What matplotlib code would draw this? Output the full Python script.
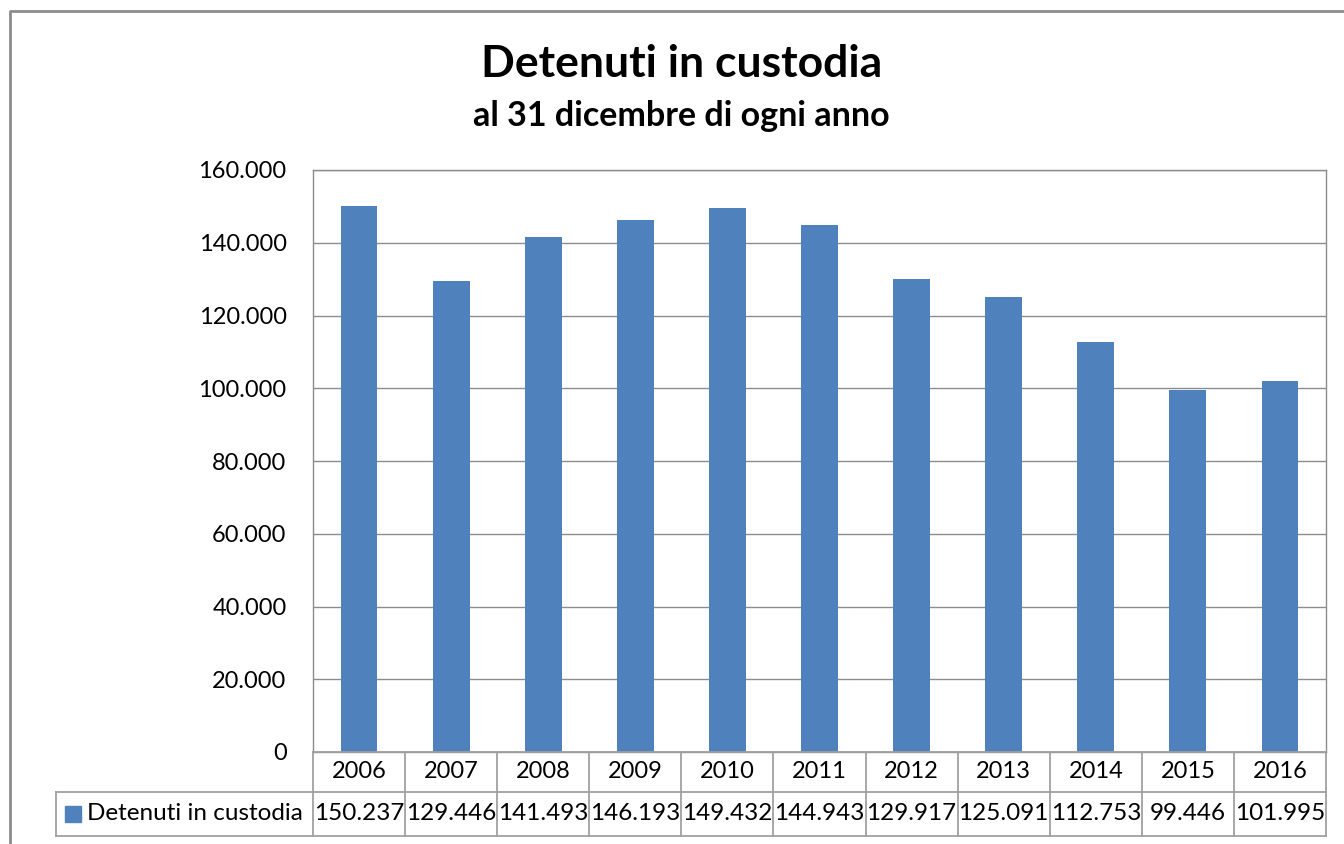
import matplotlib.pyplot as plt
from matplotlib.ticker import FuncFormatter
from matplotlib.patches import Rectangle

plt.rcParams['font.family'] = ['Lato', 'DejaVu Sans']

anni = ["2006", "2007", "2008", "2009", "2010", "2011", "2012", "2013", "2014", "2015", "2016"]
detenuti = [150237, 129446, 141493, 146193, 149432, 144943, 129917, 125091, 112753, 99446, 101995]
serie = "Detenuti in custodia"

W, H = 1344, 844
fig = plt.figure(figsize=(W / 100, H / 100), dpi=100)


def px(x0, y0, x1, y1):
    # pixel box (top-left origin) -> figure fraction [l, b, w, h]
    return [x0 / W, 1 - y1 / H, (x1 - x0) / W, (y1 - y0) / H]


def fmt(v):
    return f"{v:,}".replace(",", ".")


# chart border
fig.add_artist(plt.Line2D([10 / W, 10 / W, 1.0], [0, 1 - 11 / H, 1 - 11 / H],
                          transform=fig.transFigure, color="#8c8c8c", lw=2))

fig.text(682 / W, 1 - 64 / H, "Detenuti in custodia", ha="center", va="center",
         fontsize=32, fontweight="bold")
fig.text(681 / W, 1 - 116 / H, "al 31 dicembre di ogni anno", ha="center", va="center",
         fontsize=24.5, fontweight="bold")

L, T, R, B = 313, 170, 1326, 752
ax = fig.add_axes(px(L, T, R, B))
x = list(range(len(anni)))
ax.bar(x, detenuti, width=0.4, color="#4f81bd", zorder=3)
ax.set_xlim(-0.5, len(anni) - 0.5)
ax.set_ylim(0, 160000)
ax.set_yticks(range(0, 160001, 20000))
ax.yaxis.set_major_formatter(FuncFormatter(lambda v, p: fmt(int(v))))
ax.grid(axis="y", color="#8c8c8c", lw=1, zorder=0)
ax.set_xticks([])
ax.tick_params(axis="y", length=0, pad=19, labelsize=17)
for s in ax.spines.values():
    s.set_color("#8c8c8c")
    s.set_linewidth(1)

# data table
r1, r2 = 792, 836
tl = 56
col_w = (R - L) / len(anni)
lc = "#a0a0a0"
lines = [
    ([L, R], [B, B]),
    ([tl, R], [r1, r1]),
    ([tl, R], [r2, r2]),
    ([tl, tl], [r1, r2]),
    ([L, L], [B, r2]),
]
for i in range(1, len(anni) + 1):
    xx = L + i * col_w
    lines.append(([xx, xx], [B, r2]))
for xs, ys in lines:
    fig.add_artist(plt.Line2D([v / W for v in xs], [1 - v / H for v in ys],
                              transform=fig.transFigure, color=lc, lw=1.3))

for i, (a, v) in enumerate(zip(anni, detenuti)):
    cx = (L + (i + 0.5) * col_w) / W
    fig.text(cx, 1 - (B + r1) / 2 / H, a, ha="center", va="center", fontsize=17)
    fig.text(cx, 1 - (r1 + r2) / 2 / H, fmt(v), ha="center", va="center", fontsize=17.5)

fig.add_artist(Rectangle((65 / W, 1 - 822 / H), 16 / W, 16 / H,
                         transform=fig.transFigure, color="#4f81bd"))
fig.text(87 / W, 1 - (r1 + r2) / 2 / H, serie, ha="left", va="center", fontsize=17.5)

fig.savefig("out.png", dpi=100)
